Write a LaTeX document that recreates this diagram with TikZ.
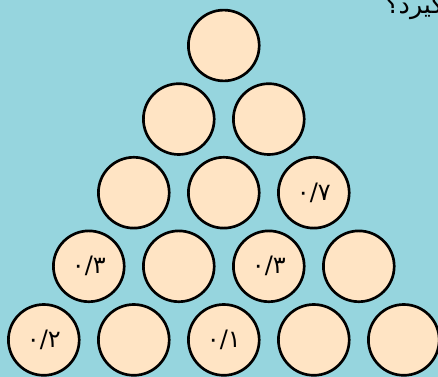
\documentclass[tikz,border=0pt]{standalone}
\usepackage{fontspec}
\newfontfamily\arabicfont[Script=Arabic]{DejaVu Sans}
\TeXXeTstate=1
\definecolor{skyback}{RGB}{150,213,222}
\definecolor{ballfill}{RGB}{255,228,196}
\tikzset{
  ball/.style={circle,draw=black,line width=2pt,fill=ballfill,
    minimum size=53.1pt,inner sep=0pt},
  prob/.style={font=\arabicfont\fontsize{18}{21}\selectfont,inner sep=0pt}
}
\begin{document}
\begin{tikzpicture}[x=0.75pt,y=-0.75pt]
% background and frame
\fill[skyback] (0,0) rectangle (438,377);
\useasboundingbox (0,0) rectangle (438,377);
\clip (0,0) rectangle (438,377);
% cut-off question
\node[anchor=base west,inner sep=0pt,font=\arabicfont\fontsize{19}{22}\selectfont]
  (quest) at (385,14) {\beginR قرار می‌گیرد؟\endR};
% pyramid of balls
\foreach \r in {1,...,5}{
  \foreach \c in {1,...,\r}{
    \node[ball] (c\r\c) at ({223.8+90*(\c-1)-45*(\r-1)},{45.5+73.6*(\r-1)}) {};
  }
}
% probabilities
\node[prob] (p33) at (c33) {۰/۷};
\node[prob] (p41) at (c41) {۰/۳};
\node[prob] (p43) at (c43) {۰/۳};
\node[prob] (p51) at (c51) {۰/۲};
\node[prob] (p53) at (c53) {۰/۱};
\end{tikzpicture}
\end{document}
